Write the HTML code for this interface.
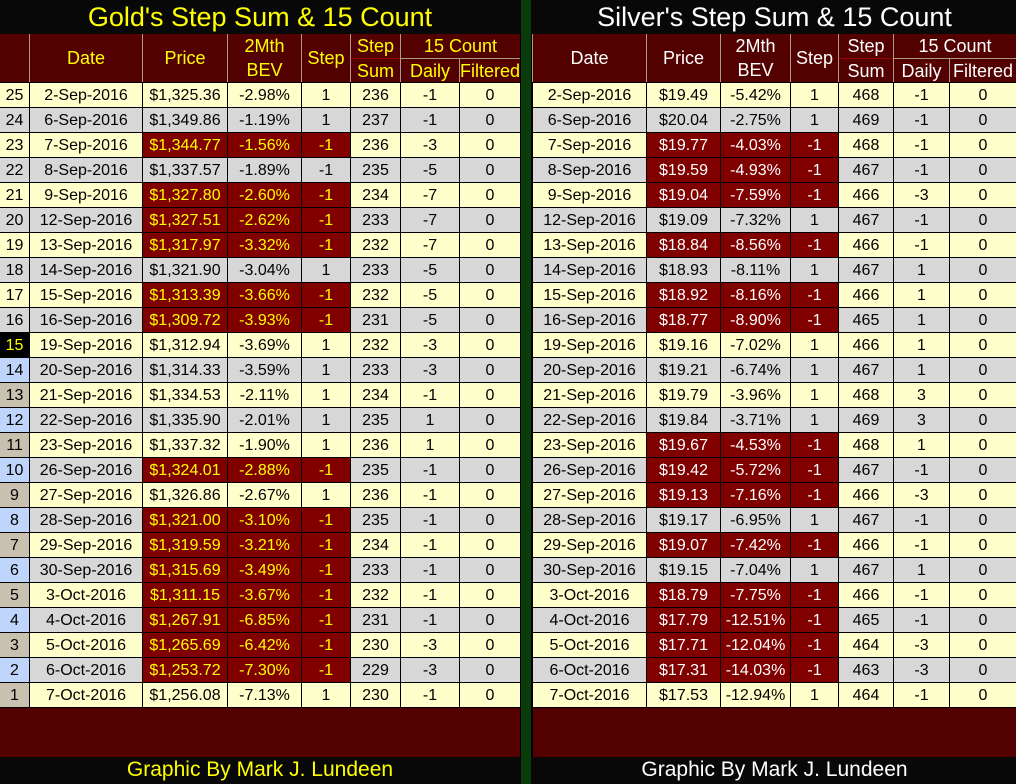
<!DOCTYPE html>
<html><head><meta charset="utf-8">
<style>
*{box-sizing:border-box}
html,body{margin:0;padding:0}
body{width:1016px;height:784px;background:#000;position:relative;overflow:hidden;font-family:"Liberation Sans",Arial,sans-serif}
.band{position:absolute;background:#080808}
.title{position:absolute;top:0;height:34px;line-height:34px;text-align:center;font-size:27px;white-space:nowrap}
#green{position:absolute;left:521px;width:10px;top:0;height:784px;background:#0b3b0b}
.hd{position:absolute;top:34px;height:48px;display:grid;grid-template-rows:24px 23px;gap:1px;background:#a89a8a}
.hd div{background:#520000;font-size:18px;text-align:center;display:flex;align-items:center;justify-content:center;white-space:nowrap;line-height:24px}
.hd div.two{display:block;padding-top:0}
#LH{left:0;width:520px;grid-template-columns:29px 112px 84px 73px 48px 49px 58px 60px}
#RH{left:532px;width:484px;padding-left:1px;grid-template-columns:113px 73px 69px 47px 54px 55px 66px}
#LH div{color:#ffff00}
#RH div{color:#ffffff}
.s2{grid-row:1/3}
.bd{position:absolute;top:82px;height:626px;padding:1px 0;display:grid;grid-template-rows:repeat(25,24px);gap:1px;background:#000}
#L{left:0;width:520px;grid-template-columns:29px 112px 84px 73px 48px 49px 58px 60px}
#R{left:532px;width:484px;padding-left:1px;grid-template-columns:113px 73px 69px 47px 54px 55px 66px}
.bd>div{display:contents}
.bd div div{background:#ffffcc;height:24px;line-height:25px;text-align:center;font-size:16px;color:#000;overflow:hidden;white-space:nowrap}
.bd .S div{background:#d7d7d7}
.bd div div.r{background:#800000;color:#ffff00}
#R div div.r{color:#ffffff}
.bd div div.k{background:#000;color:#ffff00}
.bd div div.b{background:#bfd5fb}
.bd div div.t{background:#c9c1b0}
.mar{position:absolute;top:708px;height:49px;background:#520000}
.foot{position:absolute;top:757px;height:27px;line-height:26px;text-align:center;font-size:21px;white-space:nowrap}
</style></head>
<body>
<div class="band" style="left:0;top:0;width:1016px;height:34px"></div>
<div class="title" style="left:0;width:520px;color:#ffff00">Gold's Step Sum &amp; 15 Count</div>
<div class="title" style="left:533px;width:483px;color:#ffffff">Silver's Step Sum &amp; 15 Count</div>

<div class="hd" id="LH">
<div class="s2"></div>
<div class="s2">Date</div>
<div class="s2">Price</div>
<div class="s2 two">2Mth<br>BEV</div>
<div class="s2">Step</div>
<div>Step</div>
<div style="grid-column:7/9">15 Count</div>
<div>Sum</div>
<div>Daily</div>
<div>Filtered</div>
</div>
<div style="position:absolute;left:351px;top:58px;width:49px;height:1px;background:#a00000"></div>

<div class="hd" id="RH">
<div class="s2">Date</div>
<div class="s2">Price</div>
<div class="s2 two">2Mth<br>BEV</div>
<div class="s2">Step</div>
<div>Step</div>
<div style="grid-column:6/8">15 Count</div>
<div>Sum</div>
<div>Daily</div>
<div>Filtered</div>
</div>
<div style="position:absolute;left:839px;top:58px;width:54px;height:1px;background:#a00000"></div>

<div class="bd" id="L">
<div class="Y"><div>25</div><div>2-Sep-2016</div><div>$1,325.36</div><div>-2.98%</div><div>1</div><div>236</div><div>-1</div><div>0</div></div>
<div class="S"><div>24</div><div>6-Sep-2016</div><div>$1,349.86</div><div>-1.19%</div><div>1</div><div>237</div><div>-1</div><div>0</div></div>
<div class="Y"><div>23</div><div>7-Sep-2016</div><div class="r">$1,344.77</div><div class="r">-1.56%</div><div class="r">-1</div><div>236</div><div>-3</div><div>0</div></div>
<div class="S"><div>22</div><div>8-Sep-2016</div><div>$1,337.57</div><div>-1.89%</div><div>-1</div><div>235</div><div>-5</div><div>0</div></div>
<div class="Y"><div>21</div><div>9-Sep-2016</div><div class="r">$1,327.80</div><div class="r">-2.60%</div><div class="r">-1</div><div>234</div><div>-7</div><div>0</div></div>
<div class="S"><div>20</div><div>12-Sep-2016</div><div class="r">$1,327.51</div><div class="r">-2.62%</div><div class="r">-1</div><div>233</div><div>-7</div><div>0</div></div>
<div class="Y"><div>19</div><div>13-Sep-2016</div><div class="r">$1,317.97</div><div class="r">-3.32%</div><div class="r">-1</div><div>232</div><div>-7</div><div>0</div></div>
<div class="S"><div>18</div><div>14-Sep-2016</div><div>$1,321.90</div><div>-3.04%</div><div>1</div><div>233</div><div>-5</div><div>0</div></div>
<div class="Y"><div>17</div><div>15-Sep-2016</div><div class="r">$1,313.39</div><div class="r">-3.66%</div><div class="r">-1</div><div>232</div><div>-5</div><div>0</div></div>
<div class="S"><div>16</div><div>16-Sep-2016</div><div class="r">$1,309.72</div><div class="r">-3.93%</div><div class="r">-1</div><div>231</div><div>-5</div><div>0</div></div>
<div class="Y"><div class="k">15</div><div>19-Sep-2016</div><div>$1,312.94</div><div>-3.69%</div><div>1</div><div>232</div><div>-3</div><div>0</div></div>
<div class="S"><div class="b">14</div><div>20-Sep-2016</div><div>$1,314.33</div><div>-3.59%</div><div>1</div><div>233</div><div>-3</div><div>0</div></div>
<div class="Y"><div class="t">13</div><div>21-Sep-2016</div><div>$1,334.53</div><div>-2.11%</div><div>1</div><div>234</div><div>-1</div><div>0</div></div>
<div class="S"><div class="b">12</div><div>22-Sep-2016</div><div>$1,335.90</div><div>-2.01%</div><div>1</div><div>235</div><div>1</div><div>0</div></div>
<div class="Y"><div class="t">11</div><div>23-Sep-2016</div><div>$1,337.32</div><div>-1.90%</div><div>1</div><div>236</div><div>1</div><div>0</div></div>
<div class="S"><div class="b">10</div><div>26-Sep-2016</div><div class="r">$1,324.01</div><div class="r">-2.88%</div><div class="r">-1</div><div>235</div><div>-1</div><div>0</div></div>
<div class="Y"><div class="t">9</div><div>27-Sep-2016</div><div>$1,326.86</div><div>-2.67%</div><div>1</div><div>236</div><div>-1</div><div>0</div></div>
<div class="S"><div class="b">8</div><div>28-Sep-2016</div><div class="r">$1,321.00</div><div class="r">-3.10%</div><div class="r">-1</div><div>235</div><div>-1</div><div>0</div></div>
<div class="Y"><div class="t">7</div><div>29-Sep-2016</div><div class="r">$1,319.59</div><div class="r">-3.21%</div><div class="r">-1</div><div>234</div><div>-1</div><div>0</div></div>
<div class="S"><div class="b">6</div><div>30-Sep-2016</div><div class="r">$1,315.69</div><div class="r">-3.49%</div><div class="r">-1</div><div>233</div><div>-1</div><div>0</div></div>
<div class="Y"><div class="t">5</div><div>3-Oct-2016</div><div class="r">$1,311.15</div><div class="r">-3.67%</div><div class="r">-1</div><div>232</div><div>-1</div><div>0</div></div>
<div class="S"><div class="b">4</div><div>4-Oct-2016</div><div class="r">$1,267.91</div><div class="r">-6.85%</div><div class="r">-1</div><div>231</div><div>-1</div><div>0</div></div>
<div class="Y"><div class="t">3</div><div>5-Oct-2016</div><div class="r">$1,265.69</div><div class="r">-6.42%</div><div class="r">-1</div><div>230</div><div>-3</div><div>0</div></div>
<div class="S"><div class="b">2</div><div>6-Oct-2016</div><div class="r">$1,253.72</div><div class="r">-7.30%</div><div class="r">-1</div><div>229</div><div>-3</div><div>0</div></div>
<div class="Y"><div class="t">1</div><div>7-Oct-2016</div><div>$1,256.08</div><div>-7.13%</div><div>1</div><div>230</div><div>-1</div><div>0</div></div>
</div>

<div class="bd" id="R">
<div class="Y"><div>2-Sep-2016</div><div>$19.49</div><div>-5.42%</div><div>1</div><div>468</div><div>-1</div><div>0</div></div>
<div class="S"><div>6-Sep-2016</div><div>$20.04</div><div>-2.75%</div><div>1</div><div>469</div><div>-1</div><div>0</div></div>
<div class="Y"><div>7-Sep-2016</div><div class="r">$19.77</div><div class="r">-4.03%</div><div class="r">-1</div><div>468</div><div>-1</div><div>0</div></div>
<div class="S"><div>8-Sep-2016</div><div class="r">$19.59</div><div class="r">-4.93%</div><div class="r">-1</div><div>467</div><div>-1</div><div>0</div></div>
<div class="Y"><div>9-Sep-2016</div><div class="r">$19.04</div><div class="r">-7.59%</div><div class="r">-1</div><div>466</div><div>-3</div><div>0</div></div>
<div class="S"><div>12-Sep-2016</div><div>$19.09</div><div>-7.32%</div><div>1</div><div>467</div><div>-1</div><div>0</div></div>
<div class="Y"><div>13-Sep-2016</div><div class="r">$18.84</div><div class="r">-8.56%</div><div class="r">-1</div><div>466</div><div>-1</div><div>0</div></div>
<div class="S"><div>14-Sep-2016</div><div>$18.93</div><div>-8.11%</div><div>1</div><div>467</div><div>1</div><div>0</div></div>
<div class="Y"><div>15-Sep-2016</div><div class="r">$18.92</div><div class="r">-8.16%</div><div class="r">-1</div><div>466</div><div>1</div><div>0</div></div>
<div class="S"><div>16-Sep-2016</div><div class="r">$18.77</div><div class="r">-8.90%</div><div class="r">-1</div><div>465</div><div>1</div><div>0</div></div>
<div class="Y"><div>19-Sep-2016</div><div>$19.16</div><div>-7.02%</div><div>1</div><div>466</div><div>1</div><div>0</div></div>
<div class="S"><div>20-Sep-2016</div><div>$19.21</div><div>-6.74%</div><div>1</div><div>467</div><div>1</div><div>0</div></div>
<div class="Y"><div>21-Sep-2016</div><div>$19.79</div><div>-3.96%</div><div>1</div><div>468</div><div>3</div><div>0</div></div>
<div class="S"><div>22-Sep-2016</div><div>$19.84</div><div>-3.71%</div><div>1</div><div>469</div><div>3</div><div>0</div></div>
<div class="Y"><div>23-Sep-2016</div><div class="r">$19.67</div><div class="r">-4.53%</div><div class="r">-1</div><div>468</div><div>1</div><div>0</div></div>
<div class="S"><div>26-Sep-2016</div><div class="r">$19.42</div><div class="r">-5.72%</div><div class="r">-1</div><div>467</div><div>-1</div><div>0</div></div>
<div class="Y"><div>27-Sep-2016</div><div class="r">$19.13</div><div class="r">-7.16%</div><div class="r">-1</div><div>466</div><div>-3</div><div>0</div></div>
<div class="S"><div>28-Sep-2016</div><div>$19.17</div><div>-6.95%</div><div>1</div><div>467</div><div>-1</div><div>0</div></div>
<div class="Y"><div>29-Sep-2016</div><div class="r">$19.07</div><div class="r">-7.42%</div><div class="r">-1</div><div>466</div><div>-1</div><div>0</div></div>
<div class="S"><div>30-Sep-2016</div><div>$19.15</div><div>-7.04%</div><div>1</div><div>467</div><div>1</div><div>0</div></div>
<div class="Y"><div>3-Oct-2016</div><div class="r">$18.79</div><div class="r">-7.75%</div><div class="r">-1</div><div>466</div><div>-1</div><div>0</div></div>
<div class="S"><div>4-Oct-2016</div><div class="r">$17.79</div><div class="r">-12.51%</div><div class="r">-1</div><div>465</div><div>-1</div><div>0</div></div>
<div class="Y"><div>5-Oct-2016</div><div class="r">$17.71</div><div class="r">-12.04%</div><div class="r">-1</div><div>464</div><div>-3</div><div>0</div></div>
<div class="S"><div>6-Oct-2016</div><div class="r">$17.31</div><div class="r">-14.03%</div><div class="r">-1</div><div>463</div><div>-3</div><div>0</div></div>
<div class="Y"><div>7-Oct-2016</div><div>$17.53</div><div>-12.94%</div><div>1</div><div>464</div><div>-1</div><div>0</div></div>
</div>

<div class="mar" style="left:0;width:520px"></div>
<div class="mar" style="left:533px;width:483px"></div>
<div class="band" style="left:0;top:757px;width:1016px;height:27px"></div>
<div class="foot" style="left:0;width:520px;color:#ffff00">Graphic By Mark J. Lundeen</div>
<div class="foot" style="left:533px;width:483px;color:#ffffff">Graphic By Mark J. Lundeen</div>
<div id="green"></div>
</body></html>
